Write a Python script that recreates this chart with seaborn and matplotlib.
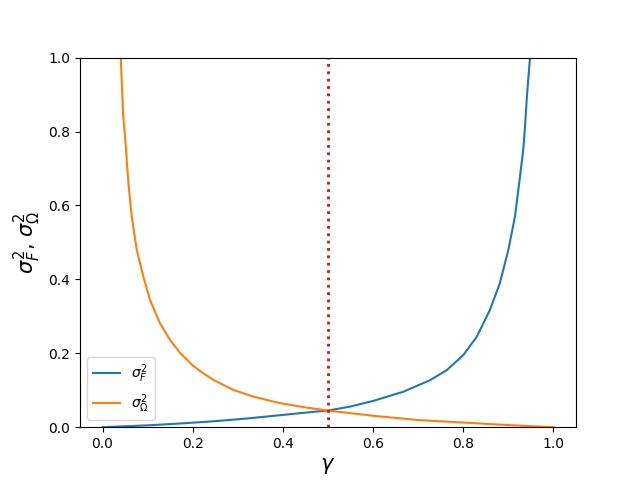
import matplotlib
matplotlib.use("Agg")
import matplotlib.pyplot as plt
import seaborn as sns
import pandas as pd

# values
gamma_F = [0.0, 0.1, 0.172, 0.246, 0.320, 0.394, 0.467, 0.5, 0.55, 0.6, 0.667,
           0.726, 0.763, 0.800, 0.830, 0.859, 0.881, 0.900, 0.9146, 0.924,
           0.933, 0.937, 0.9406, 0.944, 0.948, 0.9495]
sigma_F = [0.0, 0.005, 0.010, 0.016, 0.0235, 0.0325, 0.0415, 0.045, 0.056,
           0.071, 0.096, 0.127, 0.154, 0.195, 0.245, 0.317, 0.389, 0.480,
           0.570, 0.660, 0.751, 0.815, 0.886, 0.94, 1.0, 1.03]

gamma_O = [0.0395, 0.0404, 0.043, 0.046, 0.0521, 0.0573, 0.0647, 0.0758, 0.0905,
           0.1053, 0.1275, 0.1497, 0.172, 0.201, 0.223, 0.246, 0.290, 0.334,
           0.394, 0.453, 0.5, 0.6, 0.704, 0.8, 0.904, 1.0]
sigma_O = [1.03, 1.0, 0.92, 0.841, 0.751, 0.660, 0.570, 0.480, 0.407,
           0.344, 0.281, 0.236, 0.201, 0.166, 0.146, 0.128, 0.101, 0.083,
           0.065, 0.053, 0.045, 0.031, 0.019, 0.0127, 0.0054, 0.0]

gamma_star = 0.5

df_F = pd.DataFrame({"gamma": gamma_F, "value": sigma_F})
df_O = pd.DataFrame({"gamma": gamma_O, "value": sigma_O})

fig, ax = plt.subplots(figsize=(6.4, 4.8), dpi=100)
sns.lineplot(data=df_F, x="gamma", y="value", ax=ax, color="#1f77b4",
             label=r"$\sigma_F^2$", sort=False)
sns.lineplot(data=df_O, x="gamma", y="value", ax=ax, color="#ff7f0e",
             label=r"$\sigma_\Omega^2$", sort=False)
ax.axvline(gamma_star, color="red", linestyle=":", linewidth=2)

ax.set_xlim(-0.05, 1.05)
ax.set_ylim(0, 1)
ax.set_xlabel(r"$\gamma$", fontsize=15)
ax.set_ylabel(r"$\sigma_F^2$, $\sigma_\Omega^2$", fontsize=15)
ax.legend(loc="lower left")

fig.savefig("out.png", dpi=100)
